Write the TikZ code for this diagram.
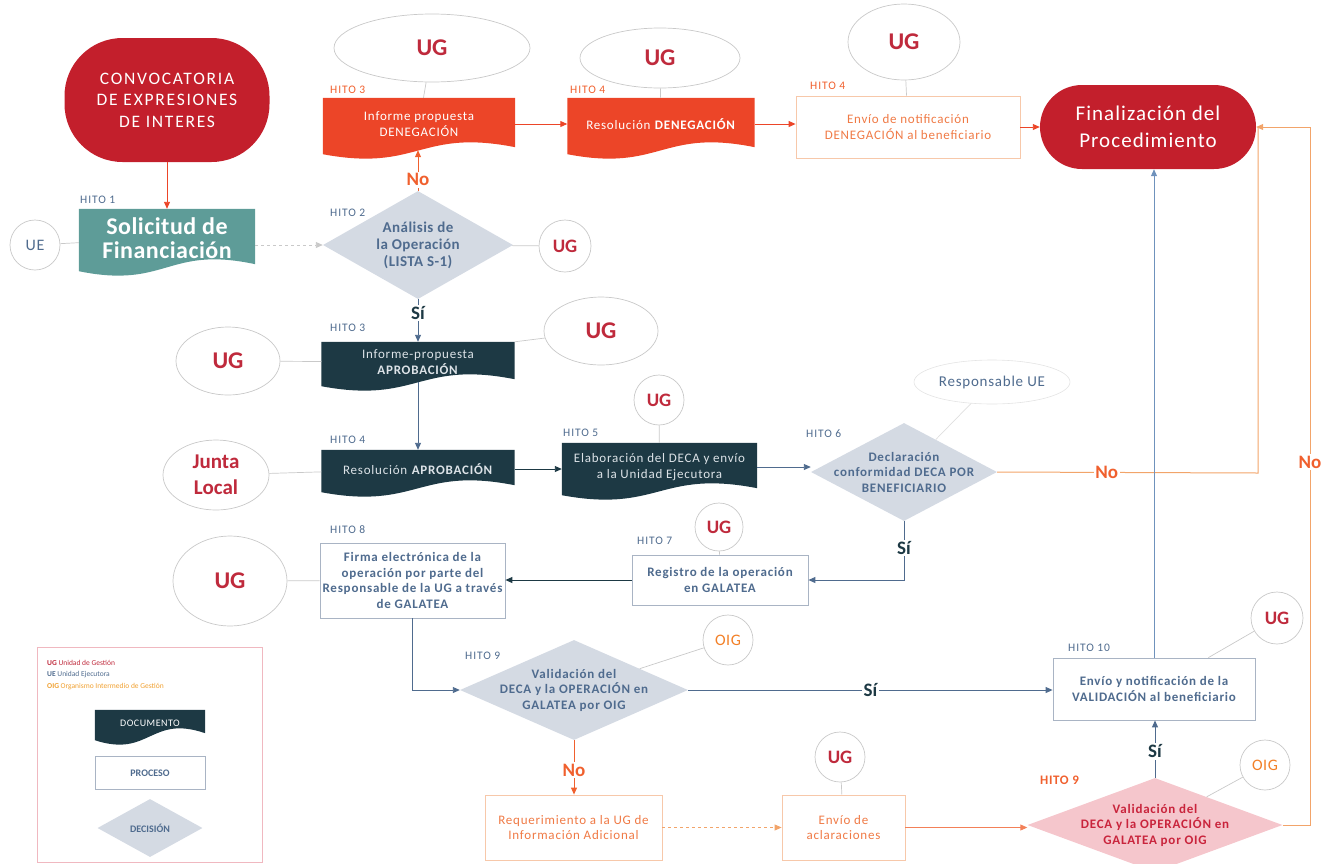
\documentclass[tikz,border=0pt]{standalone}
\usepackage{fontspec}
\setmainfont{Carlito}
\usetikzlibrary{shapes.geometric,arrows.meta,calc,backgrounds}
\definecolor{cdark}{HTML}{C31F2C}
\definecolor{cden}{HTML}{EC4528}
\definecolor{cteal}{HTML}{5E9C98}
\definecolor{cnavy}{HTML}{1D3944}
\definecolor{cdoctext}{HTML}{DDE3E8}
\definecolor{cdec}{HTML}{D4DAE3}
\definecolor{cblue}{HTML}{4F6B8E}
\definecolor{cugred}{HTML}{BF2A3C}
\definecolor{corange}{HTML}{F0602E}
\definecolor{cline}{HTML}{F2A46A}
\definecolor{cpink}{HTML}{F5C6CC}
\definecolor{cpinktext}{HTML}{C9243C}
\definecolor{cgray}{HTML}{C9C9C9}
\definecolor{cbline}{HTML}{6F92BC}
\definecolor{cobox}{HTML}{F7C8AA}
\definecolor{cotext}{HTML}{F07A45}
\definecolor{cpbox}{HTML}{A9B4C4}
\definecolor{clegend}{HTML}{F0B8C0}
\definecolor{coig}{HTML}{F0A030}
\newcommand{\fz}[2]{\fontsize{#1}{#2}\selectfont}
\newcommand{\bt}{\fontsize{13}{15.5}\selectfont\addfontfeatures{LetterSpace=6}}
\newcommand{\docwave}[2]{\fill[#2] (#1.north west) -- (#1.north east) -- ($(#1.south east)+(0,-3)$) .. controls ($(#1.south)+(0,-22)$) and ($(#1.south)+(0,22)$) .. ($(#1.south west)+(0,4)$) -- cycle;}
\begin{document}
\begin{tikzpicture}[x=1pt,y=-1pt,
  hito/.style={anchor=west,inner sep=0pt,font=\fz{11.5}{12}\addfontfeatures{LetterSpace=8},text=cblue},
  hitoo/.style={hito,text=corange},
  actor/.style={ellipse,draw=cgray,line width=0.7pt,fill=white,inner sep=0pt,align=center,font=\fz{24}{24}\bfseries,text=cugred},
  sactor/.style={actor,font=\fz{19}{19}\bfseries},
  term/.style={rectangle,fill=cdark,text=white,align=center,inner sep=0pt},
  docn/.style={rectangle,inner sep=0pt,align=center,text=cdoctext,font=\bt},
  proc/.style={rectangle,draw=cpbox,line width=0.8pt,fill=white,align=center,inner sep=0pt,text=cblue,font=\bt\bfseries},
  oproc/.style={proc,draw=cobox,text=cotext,font=\bt},
  dec/.style={diamond,fill=cdec,inner sep=0pt},
  dect/.style={align=center,inner sep=0pt,text=cblue,font=\bt\bfseries},
  flow/.style={draw=cblue,line width=0.9pt,-{Triangle[length=7pt,width=6pt]}},
  link/.style={draw=cgray,line width=0.7pt},
  lab/.style={fill=white,inner sep=1.5pt,font=\fz{19}{19}\bfseries,text=cnavy}]
\useasboundingbox (0,0) rectangle (1339,863);

% ---------- terminators ----------
\node[term,rounded corners=58pt,minimum width=205,minimum height=124,font=\fz{17.5}{21.5}\addfontfeatures{LetterSpace=10}] (conv) at (167,100) {CONVOCATORIA\\DE EXPRESIONES\\DE INTERES};
\node[term,rounded corners=42pt,minimum width=216,minimum height=84,font=\fz{21}{27}\addfontfeatures{LetterSpace=5}] (fin) at (1148,127) {Finalización del\\Procedimiento};

% ---------- top row (denegación) ----------
\node[actor,minimum width=196,minimum height=68] (ug1) at (432,48) {UG};
\node[actor,minimum width=160,minimum height=60] (ug1b) at (660,58) {UG};
\node[actor,minimum width=112,minimum height=76] (ug1c) at (904,42) {UG};
\node[docn,text=white,minimum width=192,minimum height=52] (inf1) at (419,124) {Informe propuesta\\DENEGACIÓN};
\node[docn,text=white,minimum width=187,minimum height=52] (res1) at (661,124) {Resolución \textbf{DENEGACIÓN}};
\node[oproc,minimum width=224,minimum height=62] (env1) at (908,127) {Envío de notificación\\DENEGACIÓN al beneficiario};
\node[hitoo] (h3a) at (330,90) {HITO 3};
\node[hitoo] (h4a) at (570,90) {HITO 4};
\node[hitoo] (h4b) at (810,86) {HITO 4};

% ---------- solicitud / análisis ----------
\node[actor,minimum width=50,minimum height=50,font=\fz{16}{16}\addfontfeatures{LetterSpace=5},text=cblue] (ue) at (35,245) {UE};
\node[docn,text=white,minimum width=176,minimum height=58,font=\fz{24}{24}\bfseries\addfontfeatures{LetterSpace=2}] (sol) at (167,238) {Solicitud de\\Financiación};
\node[hito] (h1) at (80,200) {HITO 1};
\node[dec,minimum width=190,minimum height=108] (d2) at (418,245) {};
\node[dect,font=\fz{15}{17}\bfseries\addfontfeatures{LetterSpace=3}] (d2t) at (418,245) {Análisis de\\la Operación\\(LISTA S-1)};
\node[hito] (h2) at (330,213) {HITO 2};
\node[sactor,minimum width=52,minimum height=52] (ug2) at (565,246) {UG};

% ---------- aprobación ----------
\node[docn,minimum width=193,minimum height=40] (inf3) at (418,362) {Informe-propuesta\\\textbf{APROBACIÓN}};
\node[hito] (h3b) at (330,328) {HITO 3};
\node[actor,minimum width=104,minimum height=68] (ugl3) at (228,361) {UG};
\node[actor,minimum width=114,minimum height=68] (ugr3) at (601,331) {UG};
\node[docn,minimum width=193,minimum height=38] (inf4) at (418,469) {Resolución \textbf{APROBACIÓN}};
\node[hito] (h4c) at (330,440) {HITO 4};
\node[actor,minimum width=106,minimum height=70,font=\fz{21}{26}\bfseries] (junta) at (216,475) {Junta\\Local};

% ---------- DECA ----------
\node[docn,minimum width=195,minimum height=48] (d5) at (659.5,467) {Elaboración del DECA y envío\\a la Unidad Ejecutora};
\node[hito] (h5) at (563,433) {HITO 5};
\node[sactor,minimum width=50,minimum height=50] (ug5) at (659,400) {UG};
\node[dec,minimum width=186,minimum height=98] (d6) at (904,472) {};
\node[dect] (d6t) at (904,472) {Declaración\\conformidad DECA POR\\BENEFICIARIO};
\node[hito] (h6) at (806,434) {HITO 6};
\node[ellipse,draw=cgray!50,line width=0.6pt,fill=white,inner sep=0pt,minimum width=156,minimum height=44,font=\fz{15}{15}\addfontfeatures{LetterSpace=5},text=cblue] (resp) at (992,382) {Responsable UE};

% ---------- registro / firma ----------
\node[proc,minimum width=176,minimum height=50] (r7) at (720,580) {Registro de la operación\\en GALATEA};
\node[hito] (h7) at (637,541) {HITO 7};
\node[sactor,minimum width=48,minimum height=48] (ug7) at (719,527) {UG};
\node[proc,minimum width=185,minimum height=75] (f8) at (412.5,580.5) {Firma electrónica de la\\operación por parte del\\Responsable de la UG a través\\de GALATEA};
\node[hito] (h8) at (330,530) {HITO 8};
\node[actor,minimum width=114,minimum height=90] (ug8) at (230,581) {UG};

% ---------- validación ----------
\node[dec,minimum width=228,minimum height=100] (d9) at (574,690) {};
\node[dect] (d9t) at (574,690) {Validación del\\DECA y la OPERACIÓN en\\GALATEA por OIG};
\node[hito] (h9) at (465,656) {HITO 9};
\node[actor,minimum width=50,minimum height=50,font=\fz{16}{16}\addfontfeatures{LetterSpace=4},text=coig!80!red] (oig9) at (728,640) {OIG};
\node[proc,minimum width=202,minimum height=62] (e10) at (1154,689) {Envío y notificación de la\\VALIDACIÓN al beneficiario};
\node[hito] (h10) at (1068,648) {HITO 10};
\node[sactor,minimum width=52,minimum height=52] (ug10) at (1277,618) {UG};

\node[oproc,minimum width=177,minimum height=65] (req) at (573.5,827.5) {Requerimiento a la UG de\\Información Adicional};
\node[oproc,minimum width=123,minimum height=65] (acl) at (843.5,827.5) {Envío de\\aclaraciones};
\node[sactor,minimum width=50,minimum height=50] (ugacl) at (840,757) {UG};
\node[dec,fill=cpink,minimum width=255,minimum height=94] (pd) at (1155,825) {};
\node[dect,text=cpinktext] (pdt) at (1155,825) {Validación del\\DECA y la OPERACIÓN en\\GALATEA por OIG};
\node[hitoo,font=\fz{13}{13}\bfseries\addfontfeatures{LetterSpace=5}] (h9b) at (1040,780) {HITO 9};
\node[actor,minimum width=50,minimum height=50,font=\fz{16}{16}\addfontfeatures{LetterSpace=4},text=coig!80!red] (oigp) at (1265,765) {OIG};

% ---------- legend ----------
\node[draw=clegend,line width=0.8pt,minimum width=225,minimum height=215,inner sep=0pt] (leg) at (149.5,754.5) {};
\node[anchor=west,inner sep=0pt,font=\fz{7.5}{9},text=cugred] (lg1) at (47,663) {\textbf{UG} Unidad de Gestión};
\node[anchor=west,inner sep=0pt,font=\fz{7.5}{9},text=cblue] (lg2) at (47,675) {\textbf{UE} Unidad Ejecutora};
\node[anchor=west,inner sep=0pt,font=\fz{7.5}{9},text=coig] (lg3) at (47,687) {\textbf{OIG} Organismo Intermedio de Gestión};
\node[docn,minimum width=110,minimum height=26,font=\fz{10}{10}\addfontfeatures{LetterSpace=5},text=white] (ldoc) at (150,723) {DOCUMENTO};
\node[proc,minimum width=110,minimum height=33,font=\fz{10}{10}\bfseries] (lproc) at (150,773) {PROCESO};
\node[dec,minimum width=105,minimum height=58] (ldec) at (150,828) {};
\node[dect,font=\fz{10}{10}\bfseries] (ldect) at (150,828) {DECISIÓN};

% ---------- document shapes ----------
\begin{scope}[on background layer]
\docwave{inf1}{cden}
\docwave{res1}{cden}
\docwave{sol}{cteal}
\docwave{inf3}{cnavy}
\docwave{inf4}{cnavy}
\docwave{d5}{cnavy}
\docwave{ldoc}{cnavy}
\end{scope}

% ---------- actor links ----------
\draw[link] (ug1) -- (inf1);
\draw[link] (ug1b) -- (res1);
\draw[link] (ug1c) -- (env1);
\draw[link] (ue) -- (sol);
\draw[link] (ug2) -- (d2);
\draw[link] (ugl3) -- (inf3);
\draw[link] (ugr3) -- (inf3.north east);
\draw[link] (junta) -- (inf4);
\draw[link] (ug5) -- (d5);
\draw[link,draw=cgray!60] (resp) -- (d6);
\draw[link] (ug7) -- (r7);
\draw[link] (ug8) -- (f8);
\draw[link] (oig9) -- (d9);
\draw[link] (ug10) -- (e10);
\draw[link] (ugacl) -- (acl);
\draw[link] (oigp) -- (pd);

% ---------- flow ----------
\coordinate (c3) at (1258,473);
\coordinate (c4) at (1258,127);
\coordinate (c5) at (1310,825);
\coordinate (c6) at (1310,127);
\draw[flow,draw=cden] (conv) -- (sol);
\draw[flow,draw=cgray,dashed] (d2.west -| sol.east) -- (d2.west);
\draw[flow,draw=corange] (d2.north) -- node[lab,pos=0.27,text=corange]{No} (d2.north |- inf1.south);
\draw[flow] (d2.south) -- node[lab,pos=0.33]{Sí} (d2.south |- inf3.north);
\draw[flow,draw=cden] (inf1) -- (res1);
\draw[flow,draw=cden] (res1.east) -- (res1.east -| env1.west);
\draw[flow,draw=cden] (env1) -- (fin);
\draw[flow] (inf3) -- (inf4);
\draw[flow,draw=cnavy] (inf4.east) -- (inf4.east -| d5.west);
\draw[flow] (d5.east) -- (d5.east -| d6.west);
\draw[draw=cline,line width=1pt] (d6.east) -- node[lab,pos=0.42,text=corange]{No} (c3) -- (c4);
\draw[flow] (d6.south) -- node[lab,pos=0.46]{Sí} (d6.south |- r7.east) -- (r7.east);
\draw[flow,draw=cnavy] (r7.west) -- (r7.west -| f8.east);
\draw[flow] (f8.south) |- (d9.west);
\draw[flow] (d9.east) -- node[lab,pos=0.5]{Sí} (d9.east -| e10.west);
\draw[flow,draw=corange] (d9.south) -- node[lab,pos=0.55,text=corange]{No} (d9.south |- req.north);
\draw[flow,draw=cline,dashed] (req.east) -- (acl.west);
\draw[flow,draw=corange!80] (acl.east) -- (acl.east -| pd.west);
\draw[flow] (pd.north) -- node[lab,pos=0.46]{Sí} (pd.north |- e10.south);
\draw[flow,draw=cline,line width=1pt] (pd.east) -- (c5) -- node[lab,pos=0.52,text=corange]{No} (c6) -- (fin.east);
\draw[flow,draw=cbline] (e10.north) -- (e10.north |- fin.south);
\end{tikzpicture}
\end{document}
